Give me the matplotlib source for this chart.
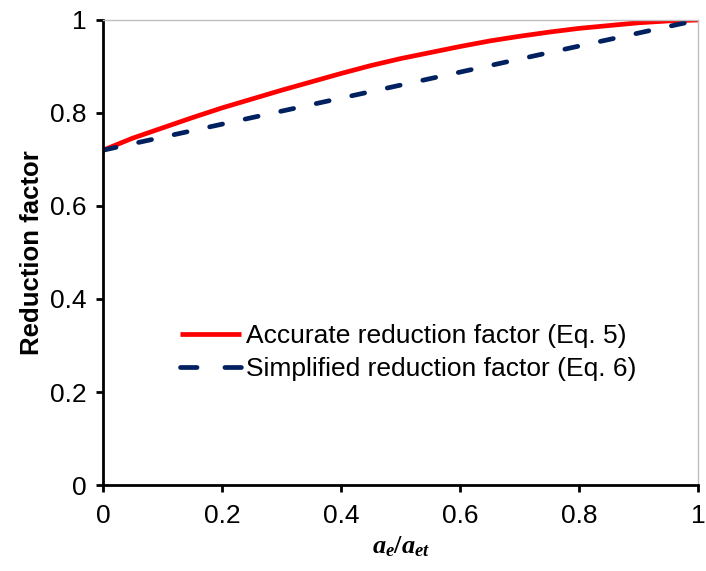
import matplotlib.pyplot as plt
import numpy as np

plt.rcParams['font.family'] = ['Liberation Sans', 'DejaVu Sans']
plt.rcParams['mathtext.fontset'] = 'custom'
plt.rcParams['mathtext.it'] = 'Liberation Serif:italic:bold'
plt.rcParams['mathtext.rm'] = 'Liberation Serif:bold'

# ratio a_e/a_et
ratio = [0.00, 0.05, 0.10, 0.15, 0.20, 0.25, 0.30, 0.35, 0.40, 0.45, 0.50,
         0.55, 0.60, 0.65, 0.70, 0.75, 0.80, 0.85, 0.90, 0.95, 1.00]
accurate = [0.720, 0.746, 0.768, 0.790, 0.811, 0.830, 0.849, 0.867, 0.885,
            0.902, 0.917, 0.930, 0.943, 0.955, 0.965, 0.974, 0.982, 0.988,
            0.994, 0.998, 1.000]
simplified_x = [0.0, 1.0]
simplified = [0.72, 1.0]
tick_labels = ["0", "0.2", "0.4", "0.6", "0.8", "1"]

fig = plt.figure(figsize=(7.06, 5.71), dpi=100)
ax = fig.add_axes([0.146, 0.1506, 0.843, 0.8144])

ax.plot(ratio, accurate, color="#FF0000", lw=3.4, solid_capstyle="butt",
        label="Accurate reduction factor (Eq. 5)")
ax.plot(simplified_x, simplified, color="#002060", lw=3.4, dashes=(2.8, 4.9),
        dash_capstyle="round", label="Simplified reduction factor (Eq. 6)")

ax.set_xlim(0, 1)
ax.set_ylim(0, 1)
ax.set_xticks(np.arange(0, 1.01, 0.2))
ax.set_yticks(np.arange(0, 1.01, 0.2))
ax.set_xticklabels(tick_labels)
ax.set_yticklabels(tick_labels)
ax.tick_params(labelsize=19, width=2, length=5, direction="out")
ax.tick_params(axis="x", pad=9)
ax.tick_params(axis="y", pad=7)

for side in ["left", "bottom"]:
    ax.spines[side].set_linewidth(2)
    ax.spines[side].set_color("black")
for side in ["top", "right"]:
    ax.spines[side].set_linewidth(1)
    ax.spines[side].set_color("#BFBFBF")

ax.set_ylabel("Reduction factor", fontsize=18.5, fontweight="bold", labelpad=4)
ax.set_xlabel(r"$a_e/a_{et}$", fontsize=19, labelpad=4)

leg = ax.legend(loc="center left", bbox_to_anchor=(0.13, 0.285), frameon=False,
                fontsize=19, handlelength=2.3, handletextpad=0.2, borderpad=0,
                borderaxespad=0, labelspacing=0.35)
leg.get_lines()[1].set_dashes((3.5, 5.9))

fig.savefig("out.png", dpi=100)
